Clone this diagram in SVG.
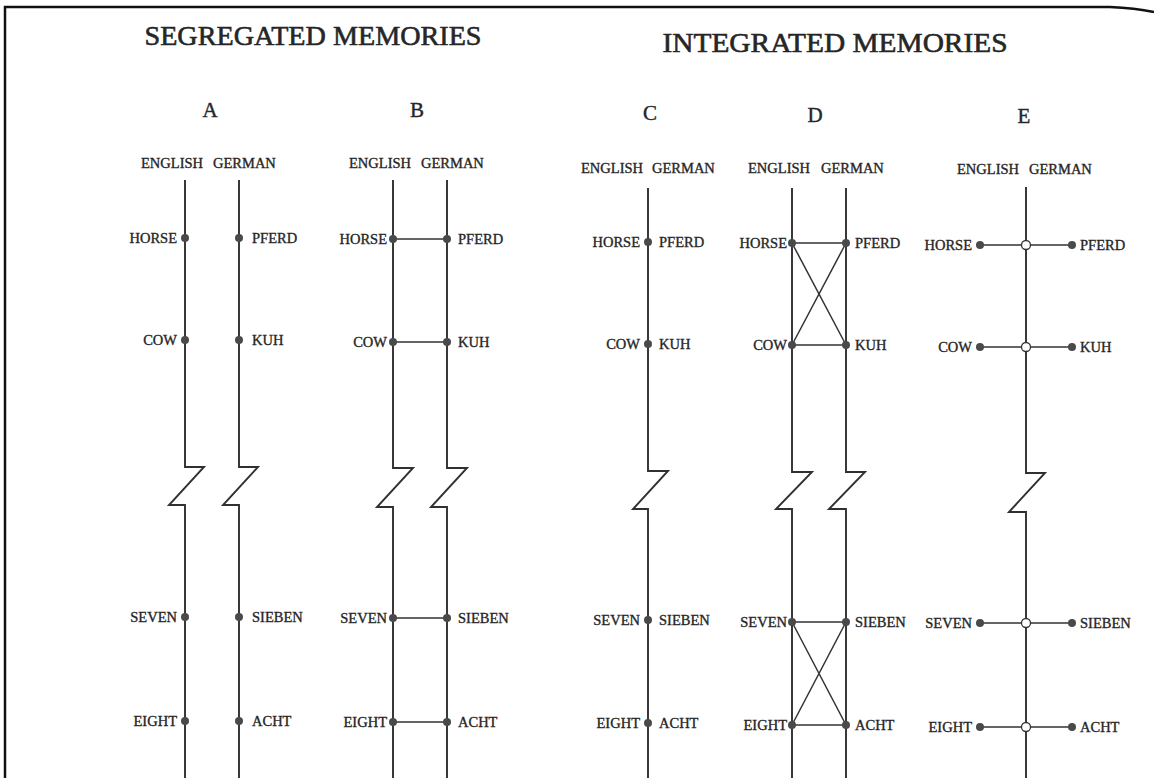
<svg xmlns="http://www.w3.org/2000/svg" width="1154" height="778" viewBox="0 0 1154 778">
<style>
text{font-family:"Liberation Serif","Times New Roman",serif;fill:#262626;stroke:#262626;stroke-width:0.35}
.title{font-size:28px;stroke-width:0.6}
.letter{font-size:21px;stroke-width:0.4}
.hdr{font-size:14.5px}
.lbl{font-size:14.5px}
.l{text-anchor:end}
.m{text-anchor:middle}
.axis{fill:none;stroke:#303030;stroke-width:1.9;stroke-linejoin:miter}
.link{fill:none;stroke:#333;stroke-width:1.5}
.dot{fill:#4a4a4a}
.open{fill:#fff;stroke:#333;stroke-width:1.3}
.border{fill:none;stroke:#111;stroke-width:2.5}
</style>
<rect width="1154" height="778" fill="#fff"/>
<path class="border" d="M5,778 V7 H1110 Q1135,8 1154,12"/>

<g id="titles">
<text class="title m" x="313" y="45" textLength="337" lengthAdjust="spacingAndGlyphs">SEGREGATED MEMORIES</text>
<text class="title m" x="835" y="52" textLength="345" lengthAdjust="spacingAndGlyphs">INTEGRATED MEMORIES</text>
<text class="letter m" x="210" y="117">A</text>
<text class="letter m" x="417" y="117">B</text>
<text class="letter m" x="650" y="120">C</text>
<text class="letter m" x="815" y="122">D</text>
<text class="letter m" x="1024" y="123">E</text>
<text class="hdr" x="141" y="168">ENGLISH</text><text class="hdr" x="213" y="168">GERMAN</text>
<text class="hdr" x="349" y="168">ENGLISH</text><text class="hdr" x="421" y="168">GERMAN</text>
<text class="hdr" x="581" y="173">ENGLISH</text><text class="hdr" x="652" y="173">GERMAN</text>
<text class="hdr" x="748" y="173">ENGLISH</text><text class="hdr" x="821" y="173">GERMAN</text>
<text class="hdr" x="957" y="174">ENGLISH</text><text class="hdr" x="1029" y="174">GERMAN</text>
</g>

<g id="connectors">
<path class="axis" d="M185,180 V467 H204 L169,505 H185 V778"/>
<path class="axis" d="M239,180 V467 H258 L223,505 H239 V778"/>
<path class="axis" d="M393,180 V468 H413 L377,507 H393 V778"/>
<path class="axis" d="M447,180 V468 H467 L431,507 H447 V778"/>
<path class="axis" d="M648,188 V471 H668 L633,509 H648 V778"/>
<path class="axis" d="M792,188 V472 H812 L776,509 H792 V778"/>
<path class="axis" d="M846,188 V472 H865 L829,509 H846 V778"/>
<path class="axis" d="M1026,187 V473 H1045 L1009,512 H1026 V778"/>
<path class="link" d="M393,239 H447 M393,342 H447 M393,618 H447 M393,722 H447"/>
<path class="link" d="M792,243 H846 M792,345 H846 M792,243 L846,345 M846,243 L792,345"/>
<path class="link" d="M792,622 H846 M792,725 H846 M792,622 L846,725 M846,622 L792,725"/>
<path class="link" d="M980,245 H1072 M980,347 H1072 M980,623 H1072 M980,727 H1072"/>
</g>

<g id="a-horse"><circle class="dot" cx="185" cy="238" r="4"/><text class="lbl l" x="177" y="243">HORSE</text></g>
<g id="a-pferd"><circle class="dot" cx="239" cy="238" r="4"/><text class="lbl" x="252" y="243">PFERD</text></g>
<g id="a-cow"><circle class="dot" cx="185" cy="340" r="4"/><text class="lbl l" x="177" y="345">COW</text></g>
<g id="a-kuh"><circle class="dot" cx="239" cy="340" r="4"/><text class="lbl" x="252" y="345">KUH</text></g>
<g id="a-seven"><circle class="dot" cx="185" cy="617" r="4"/><text class="lbl l" x="177" y="622">SEVEN</text></g>
<g id="a-sieben"><circle class="dot" cx="239" cy="617" r="4"/><text class="lbl" x="252" y="622">SIEBEN</text></g>
<g id="a-eight"><circle class="dot" cx="185" cy="721" r="4"/><text class="lbl l" x="177" y="726">EIGHT</text></g>
<g id="a-acht"><circle class="dot" cx="239" cy="721" r="4"/><text class="lbl" x="252" y="726">ACHT</text></g>

<g id="b-horse"><circle class="dot" cx="393" cy="239" r="4"/><text class="lbl l" x="387" y="244">HORSE</text></g>
<g id="b-pferd"><circle class="dot" cx="447" cy="239" r="4"/><text class="lbl" x="458" y="244">PFERD</text></g>
<g id="b-cow"><circle class="dot" cx="393" cy="342" r="4"/><text class="lbl l" x="387" y="347">COW</text></g>
<g id="b-kuh"><circle class="dot" cx="447" cy="342" r="4"/><text class="lbl" x="458" y="347">KUH</text></g>
<g id="b-seven"><circle class="dot" cx="393" cy="618" r="4"/><text class="lbl l" x="387" y="623">SEVEN</text></g>
<g id="b-sieben"><circle class="dot" cx="447" cy="618" r="4"/><text class="lbl" x="458" y="623">SIEBEN</text></g>
<g id="b-eight"><circle class="dot" cx="393" cy="722" r="4"/><text class="lbl l" x="387" y="727">EIGHT</text></g>
<g id="b-acht"><circle class="dot" cx="447" cy="722" r="4"/><text class="lbl" x="458" y="727">ACHT</text></g>

<g id="c-horse-pferd"><circle class="dot" cx="648" cy="242" r="4"/><text class="lbl l" x="640" y="247">HORSE</text><text class="lbl" x="659" y="247">PFERD</text></g>
<g id="c-cow-kuh"><circle class="dot" cx="648" cy="344" r="4"/><text class="lbl l" x="640" y="349">COW</text><text class="lbl" x="659" y="349">KUH</text></g>
<g id="c-seven-sieben"><circle class="dot" cx="648" cy="620" r="4"/><text class="lbl l" x="640" y="625">SEVEN</text><text class="lbl" x="659" y="625">SIEBEN</text></g>
<g id="c-eight-acht"><circle class="dot" cx="648" cy="723" r="4"/><text class="lbl l" x="640" y="728">EIGHT</text><text class="lbl" x="659" y="728">ACHT</text></g>

<g id="d-horse"><circle class="dot" cx="792" cy="243" r="4"/><text class="lbl l" x="787" y="248">HORSE</text></g>
<g id="d-pferd"><circle class="dot" cx="846" cy="243" r="4"/><text class="lbl" x="855" y="248">PFERD</text></g>
<g id="d-cow"><circle class="dot" cx="792" cy="345" r="4"/><text class="lbl l" x="787" y="350">COW</text></g>
<g id="d-kuh"><circle class="dot" cx="846" cy="345" r="4"/><text class="lbl" x="855" y="350">KUH</text></g>
<g id="d-seven"><circle class="dot" cx="792" cy="622" r="4"/><text class="lbl l" x="787" y="627">SEVEN</text></g>
<g id="d-sieben"><circle class="dot" cx="846" cy="622" r="4"/><text class="lbl" x="855" y="627">SIEBEN</text></g>
<g id="d-eight"><circle class="dot" cx="792" cy="725" r="4"/><text class="lbl l" x="787" y="730">EIGHT</text></g>
<g id="d-acht"><circle class="dot" cx="846" cy="725" r="4"/><text class="lbl" x="855" y="730">ACHT</text></g>

<g id="e-horse"><circle class="dot" cx="980" cy="245" r="4"/><text class="lbl l" x="972" y="250">HORSE</text></g>
<g id="e-node1"><circle class="open" cx="1026" cy="245" r="4.5"/></g>
<g id="e-pferd"><circle class="dot" cx="1072" cy="245" r="4"/><text class="lbl" x="1080" y="250">PFERD</text></g>
<g id="e-cow"><circle class="dot" cx="980" cy="347" r="4"/><text class="lbl l" x="972" y="352">COW</text></g>
<g id="e-node2"><circle class="open" cx="1026" cy="347" r="4.5"/></g>
<g id="e-kuh"><circle class="dot" cx="1072" cy="347" r="4"/><text class="lbl" x="1080" y="352">KUH</text></g>
<g id="e-seven"><circle class="dot" cx="980" cy="623" r="4"/><text class="lbl l" x="972" y="628">SEVEN</text></g>
<g id="e-node3"><circle class="open" cx="1026" cy="623" r="4.5"/></g>
<g id="e-sieben"><circle class="dot" cx="1072" cy="623" r="4"/><text class="lbl" x="1080" y="628">SIEBEN</text></g>
<g id="e-eight"><circle class="dot" cx="980" cy="727" r="4"/><text class="lbl l" x="972" y="732">EIGHT</text></g>
<g id="e-node4"><circle class="open" cx="1026" cy="727" r="4.5"/></g>
<g id="e-acht"><circle class="dot" cx="1072" cy="727" r="4"/><text class="lbl" x="1080" y="732">ACHT</text></g>
</svg>
